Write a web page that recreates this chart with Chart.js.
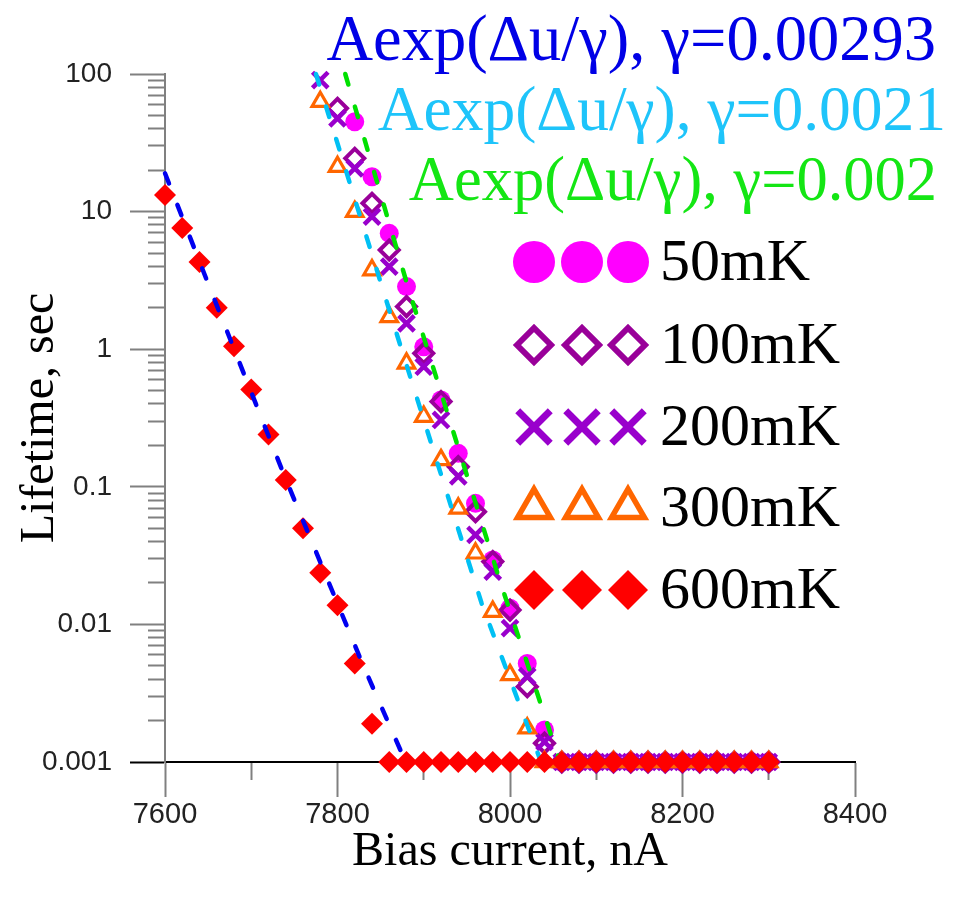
<!DOCTYPE html>
<html><head><meta charset="utf-8">
<script src="https://cdn.jsdelivr.net/npm/chart.js"></script>
<style>html,body{margin:0;padding:0;background:#fff;}canvas{display:block;}</style>
</head><body>
<canvas id="c" width="953" height="899"></canvas>
<script>
// ---- tick labels ----
const xTickValues = [7600, 7800, 8000, 8200, 8400];
const xTickLabels = ['7600', '7800', '8000', '8200', '8400'];
const yTickValues = [0.001, 0.01, 0.1, 1, 10, 100];
const yTickLabels = ['0.001', '0.01', '0.1', '1', '10', '100'];

// ---- series names ----
const seriesNames = ['50mK', '100mK', '200mK', '300mK', '600mK'];
const fitNames = ['Aexp(\u0394u/\u03b3), \u03b3=0.00293', 'Aexp(\u0394u/\u03b3), \u03b3=0.0021', 'Aexp(\u0394u/\u03b3), \u03b3=0.002'];

// ---- measured lifetimes (sec) vs bias current (nA) ----
const current50 = [7820, 7840, 7860, 7880, 7900, 7920, 7940, 7960, 7980, 8000, 8020, 8040, 8060, 8080, 8100, 8120, 8140, 8160, 8180, 8200, 8220, 8240, 8260, 8280, 8300];
const life50 = [45.0, 17.9, 6.95, 2.85, 1.04, 0.428, 0.175, 0.0758, 0.0294, 0.0131, 0.0052, 0.00171, 0.001, 0.001, 0.001, 0.001, 0.001, 0.001, 0.001, 0.001, 0.001, 0.001, 0.001, 0.001, 0.001];

const current100 = [7800, 7820, 7840, 7860, 7880, 7900, 7920, 7940, 7960, 7980, 8000, 8020, 8040, 8060, 8080, 8100, 8120, 8140, 8160, 8180, 8200, 8220, 8240, 8260, 8280, 8300];
const life100 = [56.3, 24.4, 11.5, 5.26, 2.04, 0.933, 0.416, 0.140, 0.0659, 0.0286, 0.0127, 0.00353, 0.00137, 0.001, 0.001, 0.001, 0.001, 0.001, 0.001, 0.001, 0.001, 0.001, 0.001, 0.001, 0.001, 0.001];

const current200 = [7780, 7800, 7820, 7840, 7860, 7880, 7900, 7920, 7940, 7960, 7980, 8000, 8020, 8040, 8060, 8080, 8100, 8120, 8140, 8160, 8180, 8200, 8220, 8240, 8260, 8280, 8300];
const life200 = [90.4, 47.6, 20.6, 9.19, 3.98, 1.54, 0.746, 0.306, 0.119, 0.0447, 0.0242, 0.0094, 0.0042, 0.0014, 0.001, 0.001, 0.001, 0.001, 0.001, 0.001, 0.001, 0.001, 0.001, 0.001, 0.001, 0.001, 0.001];

const current300 = [7780, 7800, 7820, 7840, 7860, 7880, 7900, 7920, 7940, 7960, 7980, 8000, 8020, 8040, 8060, 8080, 8100, 8120, 8140, 8160, 8180, 8200, 8220, 8240, 8260, 8280, 8300];
const life300 = [62.9, 21.2, 10.0, 3.76, 1.72, 0.79, 0.324, 0.157, 0.0698, 0.0329, 0.0124, 0.0043, 0.00176, 0.001, 0.001, 0.001, 0.001, 0.001, 0.001, 0.001, 0.001, 0.001, 0.001, 0.001, 0.001, 0.001, 0.001];

const current600 = [7600, 7620, 7640, 7660, 7680, 7700, 7720, 7740, 7760, 7780, 7800, 7820, 7840, 7860, 7880, 7900, 7920, 7940, 7960, 7980, 8000, 8020, 8040, 8060, 8080, 8100, 8120, 8140, 8160, 8180, 8200, 8220, 8240, 8260, 8280, 8300];
const life600 = [13.2, 7.6, 4.3, 2.0, 1.05, 0.51, 0.24, 0.112, 0.050, 0.0237, 0.0138, 0.0052, 0.0019, 0.001, 0.001, 0.001, 0.001, 0.001, 0.001, 0.001, 0.001, 0.001, 0.001, 0.001, 0.001, 0.001, 0.001, 0.001, 0.001, 0.001, 0.001, 0.001, 0.001, 0.001, 0.001, 0.001];

// ---- fit curves ----
const fitBlueX = [7600, 7650, 7738, 7830, 7879];
const fitBlueY = [19, 3.0, 0.122, 0.0050, 0.001];
const fitCyanX = [7775, 7864, 7967, 8036];
const fitCyanY = [100, 1.6, 0.0143, 0.001];
const fitGreenX = [7809, 7881, 7988, 8058];
const fitGreenY = [100, 2.93, 0.021, 0.001];

const pts = (xs, ys) => xs.map((x, i) => ({x: x, y: ys[i]}));

const colors = {
  c50: '#ff00ff', c100: '#990099', c200: '#9900cc', c300: '#ff6600', c600: '#ff0000',
  blue: '#0000f0', cyan: '#00c0f4', green: '#00e000',
  tBlue: '#0000e6', tCyan: '#1ec4fa', tGreen: '#14e614'
};

const yAllTicks = [];
for (let e = -3; e <= 1; e++) for (let m = 1; m <= 9; m++) yAllTicks.push(+(m * Math.pow(10, e)).toPrecision(3));
yAllTicks.push(100);
const xAllTicks = [];
for (let v = xTickValues[0]; v <= xTickValues[xTickValues.length - 1]; v += 100) xAllTicks.push(v);

function yMajorIndex(v) {
  for (let i = 0; i < yTickValues.length; i++) if (Math.abs(Math.log10(v) - Math.log10(yTickValues[i])) < 1e-6) return i;
  return -1;
}

function drawMarker(ctx, style, x, y, r, fill, stroke, lw) {
  ctx.save();
  ctx.lineWidth = lw; ctx.strokeStyle = stroke; ctx.fillStyle = fill;
  ctx.beginPath();
  if (style === 'circle') {
    ctx.arc(x, y, r, 0, Math.PI * 2); ctx.fill();
  } else if (style === 'rectRot') {
    ctx.moveTo(x - r, y); ctx.lineTo(x, y - r); ctx.lineTo(x + r, y); ctx.lineTo(x, y + r); ctx.closePath();
    if (fill) ctx.fill();
    if (lw > 0) ctx.stroke();
  } else if (style === 'crossRot') {
    const o = r * Math.SQRT1_2;
    ctx.moveTo(x - o, y - o); ctx.lineTo(x + o, y + o);
    ctx.moveTo(x - o, y + o); ctx.lineTo(x + o, y - o);
    ctx.stroke();
  } else if (style === 'triangle') {
    ctx.moveTo(x, y - r);
    ctx.lineTo(x + r * Math.sin(2 * Math.PI / 3), y - r * Math.cos(2 * Math.PI / 3));
    ctx.lineTo(x + r * Math.sin(4 * Math.PI / 3), y - r * Math.cos(4 * Math.PI / 3));
    ctx.closePath();
    ctx.stroke();
  }
  ctx.restore();
}

const legendPlugin = {
  id: 'customLegend',
  afterDraw(chart) {
    const ctx = chart.ctx;
    ctx.save();
    ctx.textBaseline = 'alphabetic';
    ctx.textAlign = 'right';
    const fitCols = [colors.tBlue, colors.tCyan, colors.tGreen];
    const fitRight = [936, 946, 937];
    const fitBase = [60, 130, 200];
    const fitSize = [64.5, 63.5, 62.5];
    fitNames.forEach((t, i) => {
      ctx.font = fitSize[i] + 'px "Liberation Serif", "Times New Roman", serif';
      ctx.fillStyle = fitCols[i]; ctx.fillText(t, fitRight[i], fitBase[i]);
    });

    const rowY = [262, 345, 427, 508, 590];
    const mx = [534, 582, 628];
    const mk = [
      {s: 'circle', r: 21, f: colors.c50, c: colors.c50, w: 0},
      {s: 'rectRot', r: 17, f: null, c: colors.c100, w: 6},
      {s: 'crossRot', r: 23, f: null, c: colors.c200, w: 7},
      {s: 'triangle', r: 19, f: null, c: colors.c300, w: 5.5},
      {s: 'rectRot', r: 20, f: colors.c600, c: colors.c600, w: 0}
    ];
    ctx.font = '60px "Liberation Serif", "Times New Roman", serif';
    ctx.textAlign = 'left';
    ctx.textBaseline = 'middle';
    seriesNames.forEach((n, i) => {
      mx.forEach(x => drawMarker(ctx, mk[i].s, x, rowY[i], mk[i].r, mk[i].f, mk[i].c, mk[i].w));
      ctx.fillStyle = '#000';
      ctx.fillText(n, 660, rowY[i] + 2);
    });
    ctx.restore();
  }
};

const scatterSet = (label, xs, ys, style, r, fill, stroke, bw, order) => ({
  label: label, data: pts(xs, ys), showLine: false, pointStyle: style,
  pointRadius: r, pointHoverRadius: r, pointBackgroundColor: fill, pointBorderColor: stroke,
  pointBorderWidth: bw, borderColor: stroke, backgroundColor: fill, clip: false, order: order
});
const fitSet = (label, xs, ys, color, order) => ({
  label: label, data: pts(xs, ys), showLine: true, pointRadius: 0, pointHoverRadius: 0,
  borderColor: color, borderWidth: 4.5, borderDash: [11, 23], borderCapStyle: 'round',
  fill: false, tension: 0, clip: false, order: order
});

new Chart(document.getElementById('c'), {
  type: 'scatter',
  data: {
    datasets: [
      fitSet(fitNames[0], fitBlueX, fitBlueY, colors.blue, 0),
      scatterSet(seriesNames[4], current600, life600, 'rectRot', 11, colors.c600, colors.c600, 0, 1),
      fitSet(fitNames[1], fitCyanX, fitCyanY, colors.cyan, 2),
      fitSet(fitNames[2], fitGreenX, fitGreenY, colors.green, 3),
      scatterSet(seriesNames[3], current300, life300, 'triangle', 9.5, 'rgba(0,0,0,0)', colors.c300, 3.2, 4),
      scatterSet(seriesNames[2], current200, life200, 'crossRot', 11, 'rgba(0,0,0,0)', colors.c200, 4.5, 5),
      scatterSet(seriesNames[1], current100, life100, 'rectRot', 9.5, 'rgba(0,0,0,0)', colors.c100, 4, 6),
      scatterSet(seriesNames[0], current50, life50, 'circle', 9.5, colors.c50, colors.c50, 0, 7)
    ]
  },
  options: {
    responsive: false, animation: false, devicePixelRatio: 1,
    layout: {padding: {left: 0, top: 74, right: 98, bottom: 0}},
    plugins: {legend: {display: false}, tooltip: {enabled: false}},
    scales: {
      x: {
        type: 'linear', min: 7600, max: 8400,
        afterBuildTicks: s => { s.ticks = xAllTicks.map(v => ({value: v})); },
        afterFit: s => { s.height = 137; },
        ticks: {
          autoSkip: false, maxRotation: 0, padding: 1, color: '#222',
          font: {family: '"Liberation Sans", Arial, sans-serif', size: 29},
          callback: v => { const i = xTickValues.indexOf(v); return i >= 0 ? xTickLabels[i] : ''; }
        },
        grid: {
          drawOnChartArea: false, tickLength: 35, tickWidth: 2, tickColor: '#808080',
          tickBorderDash: c => (c.tick && xTickValues.indexOf(c.tick.value) >= 0) ? [] : [17, 100]
        },
        border: {display: true, color: '#000', width: 2},
        title: {display: true, text: 'Bias current, nA', color: '#000',
          font: {family: '"Liberation Serif", "Times New Roman", serif', size: 48},
          padding: {top: 0, bottom: 18}}
      },
      y: {
        type: 'logarithmic', min: 0.001, max: 100,
        afterBuildTicks: s => { s.ticks = yAllTicks.map(v => ({value: v})); },
        afterFit: s => { s.width = 165; },
        ticks: {
          autoSkip: false, padding: 18, color: '#222',
          font: {family: '"Liberation Sans", Arial, sans-serif', size: 28},
          callback: v => { const i = yMajorIndex(v); return i >= 0 ? yTickLabels[i] : ''; }
        },
        grid: {
          drawOnChartArea: false, tickLength: 35, tickWidth: 2,
          tickColor: c => (c.tick && Math.abs(c.tick.value - 0.001) < 1e-9) ? '#000' : '#808080',
          tickBorderDash: c => (c.tick && yMajorIndex(c.tick.value) >= 0) ? [] : [0, 18, 17, 100]
        },
        border: {display: true, color: '#808080', width: 2},
        title: {display: true, text: 'Lifetime, sec', color: '#000',
          font: {family: '"Liberation Serif", "Times New Roman", serif', size: 48},
          padding: {top: 12, bottom: 0}}
      }
    }
  },
  plugins: [legendPlugin]
});
</script>
</body></html>
